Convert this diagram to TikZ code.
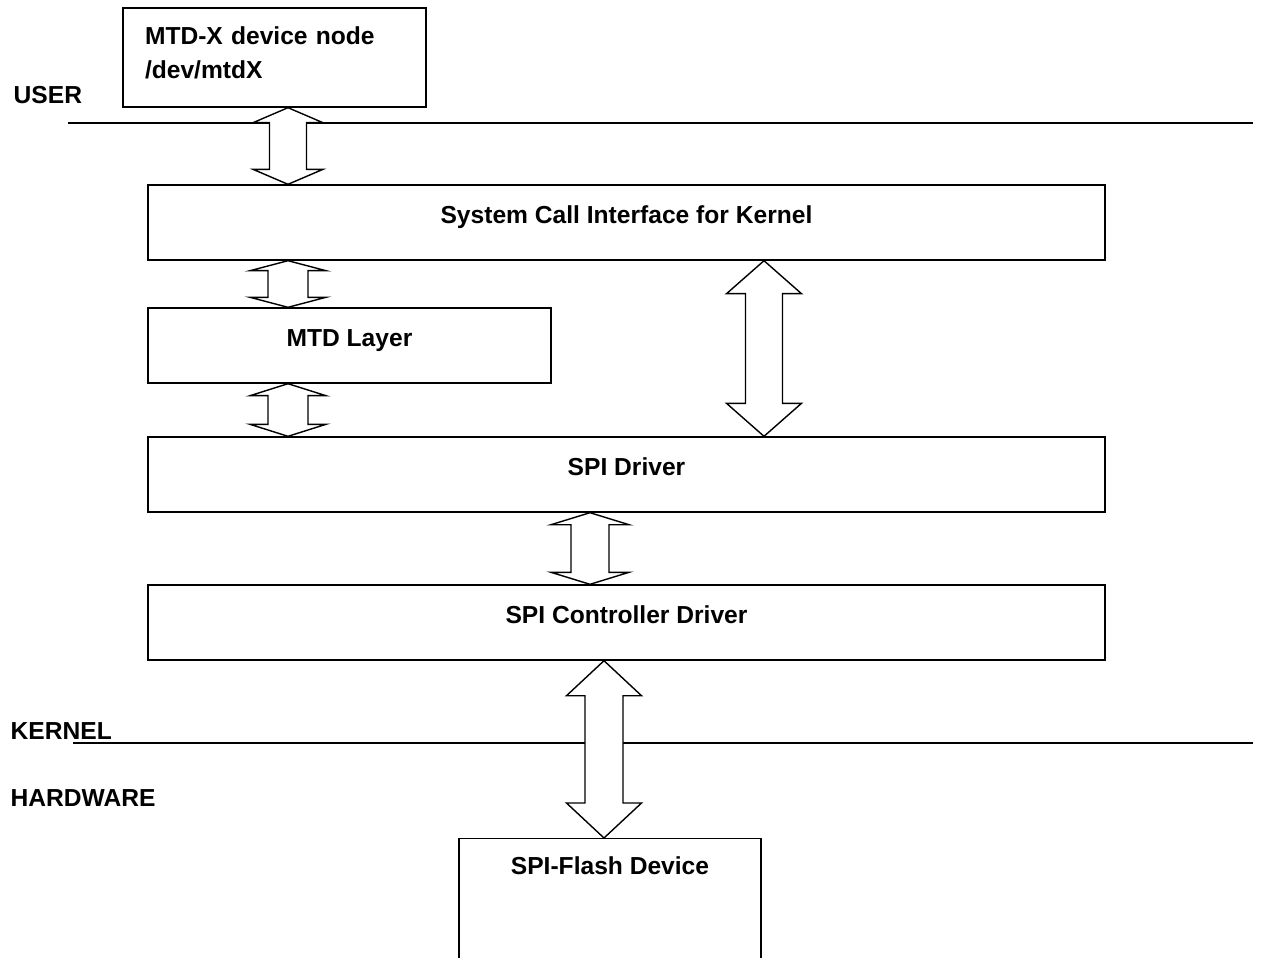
\documentclass[tikz,border=0pt]{standalone}
\usepackage{fontspec}
\setmainfont{Liberation Sans}
\usepackage{tikz}

\newcommand{\twoway}[6]{%
  \coordinate (#2-#3-t) at (#1,0 |- #2.south);
  \coordinate (#2-#3-b) at (#1,0 |- #3.north);
  \draw [black,fill=white] (#2-#3-t) -- ([shift={(#4,#6)}]#2-#3-t) -- ([shift={(#5,#6)}]#2-#3-t)
    -- ([shift={(#5,-#6)}]#2-#3-b) -- ([shift={(#4,-#6)}]#2-#3-b) -- (#2-#3-b)
    -- ([shift={(-#4,-#6)}]#2-#3-b) -- ([shift={(-#5,-#6)}]#2-#3-b)
    -- ([shift={(-#5,#6)}]#2-#3-t) -- ([shift={(-#4,#6)}]#2-#3-t) -- cycle;}

\begin{document}
\begin{tikzpicture}[x=0.02cm,y=-0.02cm,line width=0.8pt,
    every node/.style={font=\fontsize{14}{19.3}\selectfont\bfseries},
    layer/.style={draw=black,minimum height=1.5cm,text depth=0.30cm},
    side/.style={inner sep=0pt,anchor=west}]
\useasboundingbox (0,0) rectangle (1261,957);
\clip (0,0) rectangle (1261,957);

\coordinate (userL) at (68,123);
\coordinate (userR) at (1253,123);
\coordinate (kernL) at (73,743);
\coordinate (kernR) at (1253,743);
\draw [black] (userL) -- (userR);
\draw [black] (kernL) -- (kernR);

\node [side] (user) at (13,95) {USER};
\node [side] (kernel) at (10,731) {KERNEL};
\node [side] (hardware) at (10,798) {HARDWARE};

\node [draw=black,minimum width=6.06cm,minimum height=1.98cm,text width=5.18cm,
       inner xsep=0.44cm,text depth=0.86cm,align=left] (mtdx) at (274.5,57.5) {MTD-X device node\\/dev/mtdX};
\node [layer,minimum width=19.14cm] (sys) at (626.5,222.5) {System Call Interface for Kernel};
\node [layer,minimum width=8.06cm] (mtd) at (349.5,345.5) {MTD Layer};
\node [layer,minimum width=19.14cm] (spi) at (626.5,474.5) {SPI Driver};
\node [layer,minimum width=19.14cm] (ctrl) at (626.5,622.5) {SPI Controller Driver};
\node [draw=black,minimum width=6.04cm,text height=0.6cm,text depth=3cm,anchor=north]
      (flash) at (610,838) {SPI-Flash Device};

\twoway{288}{mtdx}{sys}{35}{18.5}{15}
\twoway{288}{sys}{mtd}{38}{20}{10}
\twoway{288}{mtd}{spi}{38}{20}{12}
\twoway{764}{sys}{spi}{37.5}{18.5}{33}
\twoway{590}{spi}{ctrl}{39}{19}{12}
\twoway{604}{ctrl}{flash}{37.5}{19}{35}
\end{tikzpicture}
\end{document}
